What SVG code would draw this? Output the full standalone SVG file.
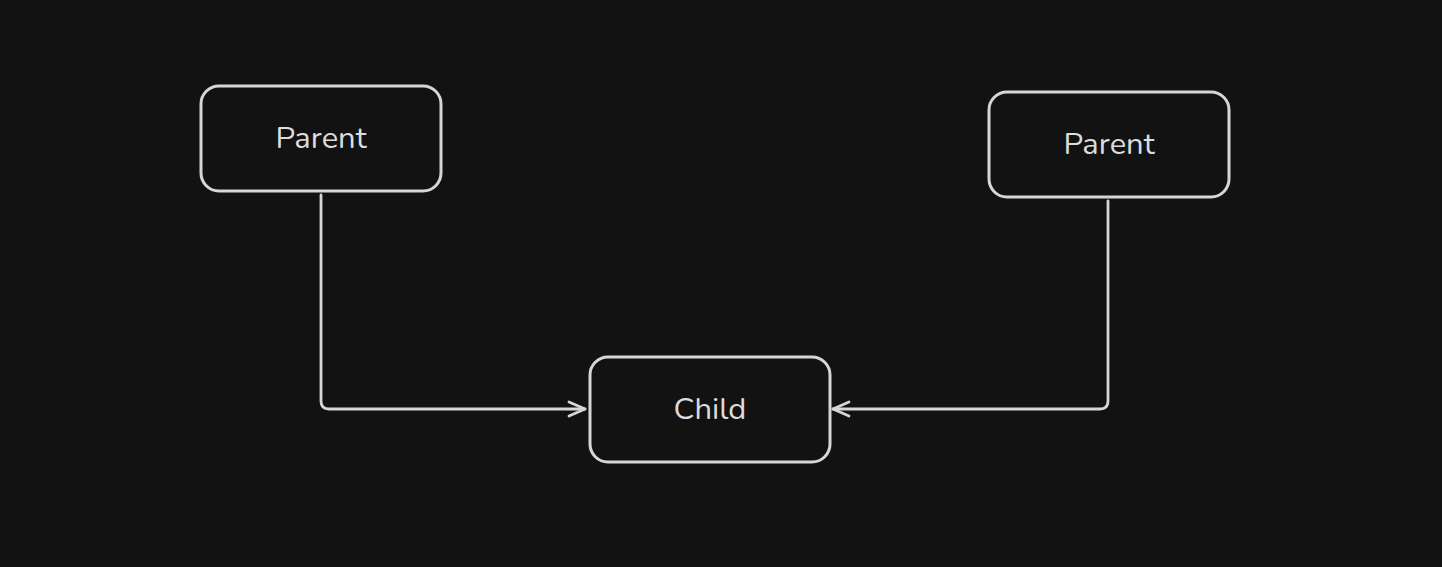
<svg xmlns="http://www.w3.org/2000/svg" width="1442" height="567" viewBox="0 0 1442 567">
<style>
.box{fill:#121212;stroke:#d6d6d6;stroke-width:3}
.lbl{fill:#dcdcdc;font-family:"Nunito","Lato","Noto Sans",sans-serif;font-size:31px;text-anchor:middle;dominant-baseline:central}
.edge{fill:none;stroke:#d6d6d6;stroke-width:2.8;stroke-linecap:round;stroke-linejoin:round}
</style>
<defs>
<marker id="arr" viewBox="0 0 20 20" refX="18" refY="10" markerWidth="20" markerHeight="20" markerUnits="userSpaceOnUse" orient="auto">
<path d="M2,3 L18,10 L2,17" fill="none" stroke="#d6d6d6" stroke-width="2.8" stroke-linecap="round" stroke-linejoin="round"/>
</marker>
</defs>
<rect width="1442" height="567" fill="#121212"/>
<g id="connectors">
<path class="edge" d="M321,195 L321,401 Q321,409 329,409 L585,409" marker-end="url(#arr)"/>
<path class="edge" d="M1108,201 L1108,401 Q1108,409 1100,409 L833,409" marker-end="url(#arr)"/>
</g>
<g id="parent1">
<rect class="box" x="201" y="86" width="240" height="105" rx="18"/>
<text class="lbl" x="321" y="138">Parent</text>
</g>
<g id="parent2">
<rect class="box" x="989" y="92" width="240" height="105" rx="18"/>
<text class="lbl" x="1109" y="144">Parent</text>
</g>
<g id="child">
<rect class="box" x="590" y="357" width="240" height="105" rx="18"/>
<text class="lbl" x="710" y="409">Child</text>
</g>
</svg>
